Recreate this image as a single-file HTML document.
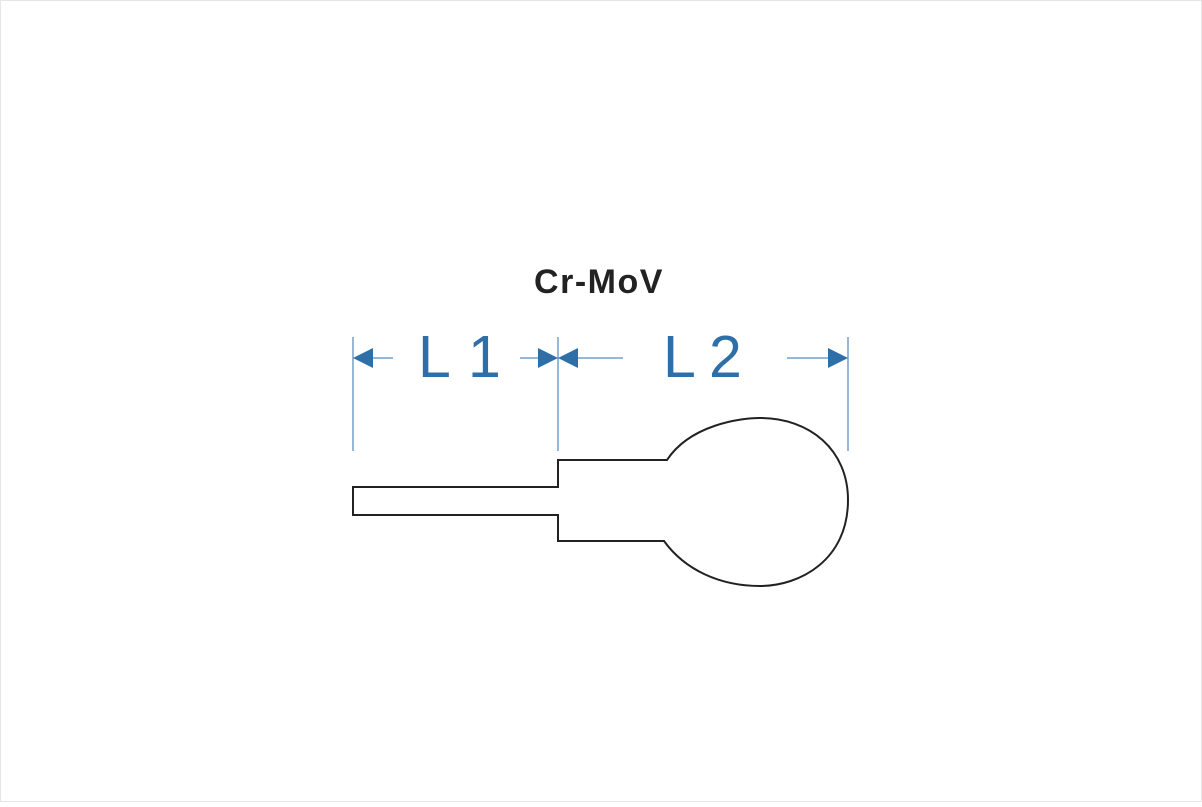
<!DOCTYPE html>
<html><head><meta charset="utf-8"><style>
html,body{margin:0;padding:0;background:#fff;}
body{width:1202px;height:802px;overflow:hidden;}
</style></head><body>
<svg width="1202" height="802" viewBox="0 0 1202 802" xmlns="http://www.w3.org/2000/svg">
<rect x="0.5" y="0.5" width="1201" height="801" fill="#fff" stroke="#e6e6e6"/>
<text x="599" y="293" text-anchor="middle" font-family="Liberation Sans, sans-serif" font-weight="bold" font-size="34" fill="#222" letter-spacing="1.5">Cr-MoV</text>
<g stroke="#2f6fa8" stroke-width="1">
<line x1="353" y1="337" x2="353" y2="451"/>
<line x1="558" y1="337" x2="558" y2="451"/>
<line x1="848" y1="337" x2="848" y2="451"/>
<line x1="373" y1="358" x2="393" y2="358"/>
<line x1="520" y1="358" x2="540" y2="358"/>
<line x1="578" y1="358" x2="623" y2="358"/>
<line x1="787" y1="358" x2="828" y2="358"/>
</g>
<g fill="#2f6fa8">
<polygon points="353,358 373,348 373,368"/>
<polygon points="558,358 538,348 538,368"/>
<polygon points="558,358 578,348 578,368"/>
<polygon points="848,358 828,348 828,368"/>
</g>
<g font-family="Liberation Sans, sans-serif" font-size="59" fill="#2f6fa8">
<text x="418" y="377">L</text><text x="468" y="377">1</text>
<text x="663" y="377">L</text><text x="709" y="377">2</text>
</g>
<path d="M353,487 H558 V460 H667 C690,425 740,418 760,418 C810,418 848,450 848,500 C848,560 800,586 760,586 C720,586 685,570 664,541 H558 V515 H353 Z" fill="none" stroke="#222" stroke-width="2"/>
</svg>
</body></html>
